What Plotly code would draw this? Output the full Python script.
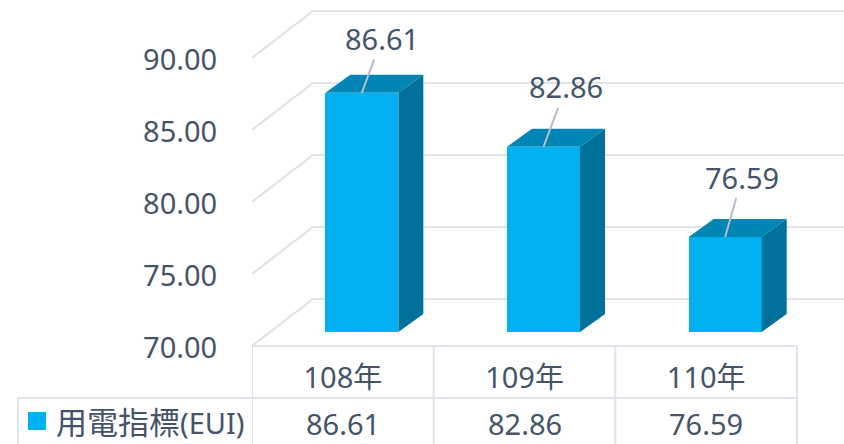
import plotly.graph_objects as go

# --- data ---
years = ["108年", "109年", "110年"]
eui_values = [86.61, 82.86, 76.59]
y_ticks = [70, 75, 80, 85, 90]
series_name = "用電指標(EUI)"

# --- style ---
W, H = 844, 444
PX_PLOT_L, PX_BASE_Y, PX_TABLE_R, PX_ROW_Y, PX_BOX_L = 252, 346, 797, 398, 18
PX_CAT = (PX_TABLE_R - PX_PLOT_L) / 3
PX_UNIT = 14.4
BAR_W = 73 / PX_CAT
BAR_SHIFT = 19 / PX_CAT
DEPTH_X, DEPTH_Y = 25 / PX_CAT, 18 / PX_UNIT
WALL_X, WALL_Y = 61 / PX_CAT, 47 / PX_UNIT
PLANE_LIFT = 14 / PX_UNIT
X_MAX = (W - PX_PLOT_L) / PX_CAT - 0.5
Y_MAX_UNITS = PX_BASE_Y / PX_UNIT

TEXT = "#44546a"
GRID = "#dfe3ea"
FRONT, SIDE, TOP = "#00b0f0", "#00719a", "#0085b5"
LEADER = "#b5bdcb"
FONT = "Noto Sans, Noto Sans CJK TC, sans-serif"
FS = 29
label_offsets = [(20, -54.5), (22.5, -60), (17, -60)]


def py(px):
    return (H - px) / H


def px_x(px):
    return px / W


fig = go.Figure()

# wall / floor gridlines
for t in y_ticks:
    fig.add_trace(go.Scatter(
        x=[-0.5, -0.5 + WALL_X, X_MAX], y=[t, t + WALL_Y, t + WALL_Y],
        mode="lines", line=dict(color=GRID, width=2.2), hoverinfo="skip",
        showlegend=False, xaxis="x", yaxis="y", cliponaxis=False))

# bars (front faces), standing on the axis minimum
base = y_ticks[0]
fig.add_trace(go.Bar(
    x=[0, 1, 2], y=[v - base for v in eui_values], base=base, name=series_name,
    width=BAR_W, offset=BAR_SHIFT - BAR_W / 2,
    marker=dict(color=FRONT, line=dict(width=0)),
    xaxis="x", yaxis="y2", showlegend=False))

# side and top faces
for i, v in enumerate(eui_values):
    xl = i + BAR_SHIFT - BAR_W / 2
    xr = i + BAR_SHIFT + BAR_W / 2
    fig.add_trace(go.Scatter(
        x=[xr, xr + DEPTH_X, xr + DEPTH_X, xr, xr],
        y=[base, base + DEPTH_Y, v + DEPTH_Y, v, base],
        mode="lines", fill="toself", fillcolor=SIDE, line=dict(width=0),
        hoverinfo="skip", showlegend=False, xaxis="x", yaxis="y2"))
    fig.add_trace(go.Scatter(
        x=[xl, xl + DEPTH_X, xr + DEPTH_X, xr, xl],
        y=[v, v + DEPTH_Y, v + DEPTH_Y, v, v],
        mode="lines", fill="toself", fillcolor=TOP, line=dict(width=0),
        hoverinfo="skip", showlegend=False, xaxis="x", yaxis="y2"))

annotations = []
# data labels with leader lines
for i, v in enumerate(eui_values):
    ax, ay = label_offsets[i]
    annotations.append(dict(
        x=i + BAR_SHIFT, y=v, xref="x", yref="y2", text=f"{v:.2f}",
        showarrow=True, arrowhead=0, arrowwidth=2, arrowcolor=LEADER,
        ax=ax, ay=ay, axref="pixel", ayref="pixel",
        font=dict(family=FONT, size=FS, color=TEXT)))

# data-table row
for i, v in enumerate(eui_values):
    annotations.append(dict(
        x=i, y=py(423), xref="x", yref="paper", text=f"{v:.2f}", showarrow=False,
        xanchor="center", yanchor="middle",
        font=dict(family=FONT, size=FS, color=TEXT)))
annotations.append(dict(
    x=px_x(54), y=py(422), xref="paper", yref="paper", xanchor="left", yanchor="middle",
    showarrow=False,
    text='<span style="font-size:31px">用電指標</span>(EUI)',
    font=dict(family=FONT, size=FS, color=TEXT)))

# data-table grid and legend key
shapes = []
line = dict(color=GRID, width=2)
for xv in [-0.5, 0.5, 1.5, 2.5]:
    shapes.append(dict(type="line", xref="x", yref="paper", x0=xv, x1=xv,
                       y0=py(PX_BASE_Y), y1=0, line=line, layer="below"))
shapes.append(dict(type="line", xref="x", yref="paper", x0=-0.5, x1=2.5,
                   y0=py(PX_BASE_Y), y1=py(PX_BASE_Y), line=line, layer="below"))
shapes.append(dict(type="line", xref="paper", yref="paper", x0=px_x(PX_BOX_L), x1=px_x(PX_TABLE_R),
                   y0=py(PX_ROW_Y), y1=py(PX_ROW_Y), line=line, layer="below"))
shapes.append(dict(type="line", xref="paper", yref="paper", x0=px_x(PX_BOX_L), x1=px_x(PX_BOX_L),
                   y0=py(PX_ROW_Y), y1=0, line=line, layer="below"))
shapes.append(dict(type="rect", xref="paper", yref="paper", x0=px_x(28), x1=px_x(46),
                   y0=py(430), y1=py(412), fillcolor=FRONT, line=dict(width=0)))

fig.update_layout(
    width=W, height=H, autosize=False,
    margin=dict(l=0, r=0, t=0, b=0, pad=0),
    paper_bgcolor="white", plot_bgcolor="white",
    showlegend=False,
    annotations=annotations, shapes=shapes,
    font=dict(family=FONT, size=FS, color=TEXT),
    xaxis=dict(
        automargin=False,
        domain=[px_x(PX_PLOT_L), 1], range=[-0.5, X_MAX],
        tickmode="array", tickvals=[0, 1, 2], ticktext=years,
        showgrid=False, zeroline=False, showline=False,
        ticks="outside", ticklen=6, tickcolor="rgba(0,0,0,0)",
        tickfont=dict(family=FONT, size=FS, color=TEXT)),
    yaxis=dict(
        automargin=False,
        domain=[py(PX_BASE_Y), 1], range=[y_ticks[0], y_ticks[0] + Y_MAX_UNITS],
        tickmode="array", tickvals=y_ticks, ticktext=[f"{t:.2f}" for t in y_ticks],
        showgrid=False, zeroline=False, showline=False,
        ticks="outside", ticklen=28, tickcolor="rgba(0,0,0,0)",
        ticklabelshift=2,
        tickfont=dict(family=FONT, size=FS, color=TEXT)),
    yaxis2=dict(
        automargin=False,
        domain=[py(PX_BASE_Y), 1], overlaying="y", anchor="x",
        range=[y_ticks[0] - PLANE_LIFT, y_ticks[0] - PLANE_LIFT + Y_MAX_UNITS],
        showgrid=False, zeroline=False, showline=False, showticklabels=False, ticks=""),
    bargap=0,
)

fig.write_html("out.html", config={"displayModeBar": False},
               post_script="document.body.style.margin='0';document.documentElement.style.overflow='hidden';")
